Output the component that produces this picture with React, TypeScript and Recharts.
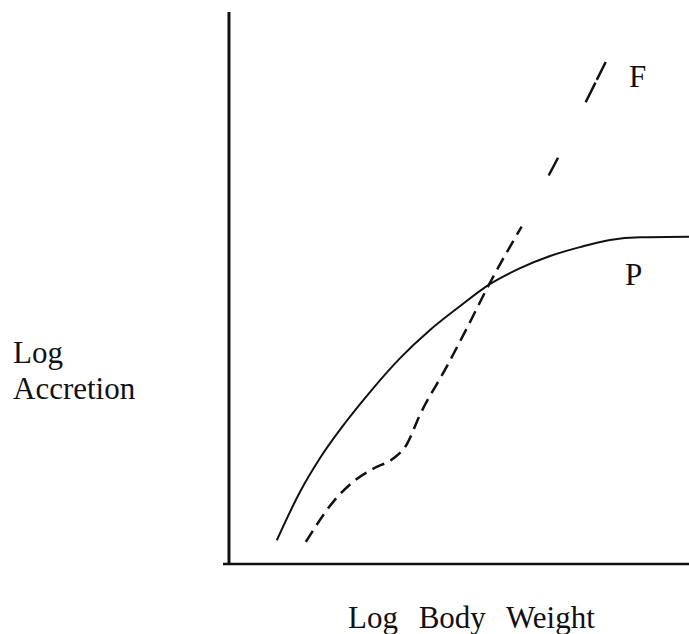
import { LineChart, Line, XAxis, YAxis, ReferenceLine } from "recharts"

// P curve (solid): log body weight vs log accretion (arbitrary units 0-100)
const pX = [10.4, 15.4, 19.8, 25.2, 30.7, 37.2, 43.7, 50.2, 56.7, 63.3, 69.8, 76.3, 82.8, 89.4, 100]
const pY = [4.3, 13.0, 19.2, 25.5, 31.2, 37.3, 42.4, 46.7, 50.7, 53.6, 55.8, 57.4, 58.7, 59.2, 59.3]

// F curve (dashed), dense part below the crossing and the sparse part above it
const fX = [16.7, 22.7, 27.0, 31.4, 35.7, 38.6, 41.5, 47.3, 51.7, 56.7, 63.6]
const fY = [4.0, 11.3, 14.9, 17.3, 19.1, 21.6, 27.0, 35.7, 42.7, 50.9, 61.1]
const fUpperX = [63.6, 71.6, 82.1]
const fUpperY = [61.1, 73.7, 91.3]

const pData = pX.map((x, i) => ({ x, y: pY[i] }))
const fData = fX.map((x, i) => ({ x, y: fY[i] }))
const fUpperData = fUpperX.map((x, i) => ({ x, y: fUpperY[i] }))

const FONT = "'Liberation Serif', 'Times New Roman', serif"
const INK = "#111"

export default function App() {
  return (
    <div style={{ position: "absolute", left: 0, top: 0, width: 689, height: 634, background: "#fff" }}>
      <LineChart width={689} height={634} margin={{ top: 12, right: 0, left: 223, bottom: 70 }}>
        <XAxis type="number" dataKey="x" domain={[-1.3, 100]} allowDataOverflow hide height={0} />
        <YAxis type="number" dataKey="y" domain={[0, 100]} allowDataOverflow hide width={0} />
        {/* axes drawn as plain lines, like the original sketch */}
        <ReferenceLine y={0} stroke={INK} strokeWidth={2.5} />
        <ReferenceLine x={0} stroke={INK} strokeWidth={3} />
        <Line
          data={pData}
          dataKey="y"
          type="monotone"
          stroke={INK}
          strokeWidth={2}
          dot={false}
          isAnimationActive={false}
        />
        <Line
          data={fData}
          dataKey="y"
          type="monotone"
          stroke={INK}
          strokeWidth={2.5}
          strokeDasharray="13 7"
          dot={false}
          isAnimationActive={false}
        />
        <Line
          data={fUpperData}
          dataKey="y"
          type="linear"
          stroke={INK}
          strokeWidth={2.5}
          strokeDasharray="0 58 20 62 22 3 20 200"
          dot={false}
          isAnimationActive={false}
        />
        <g fontFamily={FONT} fill={INK} fontSize={31}>
          <text x={629} y={87}>F</text>
          <text x={625} y={285}>P</text>
          <text x={13} y={363}>Log</text>
          <text x={13} y={399}>Accretion</text>
          <text x={348} y={628} style={{ wordSpacing: "13px" }}>Log Body Weight</text>
        </g>
      </LineChart>
    </div>
  )
}
